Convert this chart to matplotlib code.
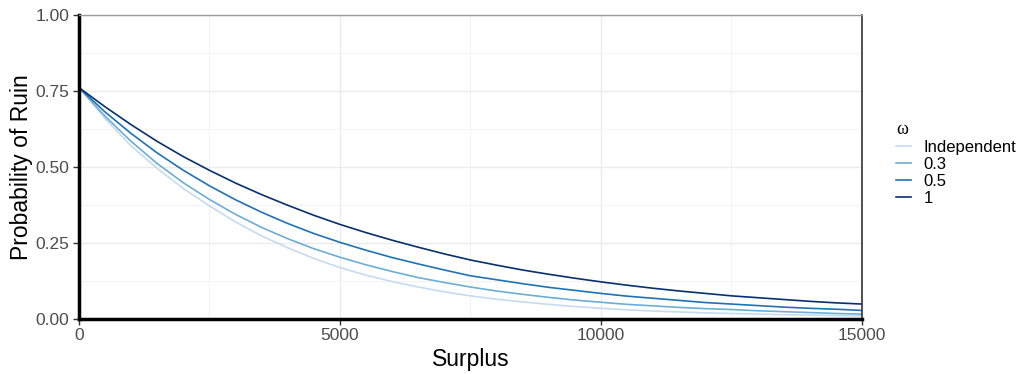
import numpy as np
import matplotlib
matplotlib.use("Agg")
import matplotlib.pyplot as plt
from matplotlib.ticker import MultipleLocator

plt.rcParams['font.family'] = ['Liberation Sans', 'DejaVu Sans']

surplus = np.arange(0, 15001, 500)

ruin_indep = [0.760, 0.658, 0.568, 0.494, 0.428, 0.371, 0.318, 0.272, 0.233, 0.198,
              0.168, 0.143, 0.122, 0.104, 0.088, 0.075, 0.064, 0.055, 0.047, 0.040,
              0.034, 0.029, 0.025, 0.022, 0.019, 0.017, 0.015, 0.013, 0.012, 0.010, 0.009]
ruin_03 = [0.760, 0.666, 0.583, 0.510, 0.447, 0.392, 0.343, 0.300, 0.263, 0.230,
           0.202, 0.177, 0.155, 0.135, 0.119, 0.104, 0.091, 0.080, 0.070, 0.061,
           0.054, 0.047, 0.042, 0.037, 0.033, 0.030, 0.026, 0.023, 0.020, 0.017, 0.015]
ruin_05 = [0.760, 0.680, 0.609, 0.545, 0.488, 0.437, 0.391, 0.350, 0.313, 0.280,
           0.251, 0.225, 0.201, 0.180, 0.160, 0.141, 0.128, 0.115, 0.103, 0.093,
           0.083, 0.074, 0.067, 0.060, 0.053, 0.048, 0.043, 0.038, 0.034, 0.031, 0.027]
ruin_1 = [0.760, 0.697, 0.638, 0.583, 0.533, 0.488, 0.446, 0.408, 0.373, 0.340,
          0.310, 0.283, 0.258, 0.235, 0.213, 0.193, 0.176, 0.160, 0.146, 0.133,
          0.121, 0.110, 0.100, 0.091, 0.083, 0.075, 0.069, 0.063, 0.057, 0.052, 0.048]

labels = ["Independent", "0.3", "0.5", "1"]
colors = ["#c6dbef", "#6baed6", "#2171b5", "#08306b"]

fig = plt.figure(figsize=(10.19, 3.74), dpi=100)
ax = fig.add_axes([0.0775, 0.148, 0.7684, 0.8127])

for y, lab, c in zip([ruin_indep, ruin_03, ruin_05, ruin_1], labels, colors):
    ax.plot(surplus, y, color=c, lw=1.2, label=lab)

ax.set_xlim(0, 15000)
ax.set_ylim(0, 1)
ax.xaxis.set_major_locator(MultipleLocator(5000))
ax.xaxis.set_minor_locator(MultipleLocator(2500))
ax.yaxis.set_major_locator(MultipleLocator(0.25))
ax.yaxis.set_minor_locator(MultipleLocator(0.125))
ax.yaxis.set_major_formatter(plt.FuncFormatter(lambda v, p: f"{v:.2f}"))

ax.grid(which="major", color="#ebebeb", lw=1.0)
ax.grid(which="minor", color="#f4f4f4", lw=0.8)
ax.set_axisbelow(True)

ax.spines["left"].set_linewidth(2.5)
ax.spines["left"].set_color("black")
ax.spines["bottom"].set_linewidth(2.5)
ax.spines["bottom"].set_color("black")
ax.spines["top"].set_color("#999999")
ax.spines["top"].set_linewidth(1.0)
ax.spines["right"].set_color("#333333")
ax.spines["right"].set_linewidth(1.2)

ax.tick_params(which="major", length=4, width=1, color="#333333",
               labelsize=12.5, labelcolor="#4d4d4d", pad=3)
ax.tick_params(which="minor", length=0)

ax.set_xlabel("Surplus", fontsize=16.5, labelpad=3)
ax.set_ylabel("Probability of Ruin", fontsize=16.5, labelpad=2)

leg = ax.legend(loc="upper left", bbox_to_anchor=(0.873, 0.695), bbox_transform=fig.transFigure,
                frameon=False, fontsize=12, handlelength=0.9, handletextpad=0.75,
                labelspacing=0.12, borderaxespad=0, title="ω")
leg.get_title().set_fontfamily("Liberation Serif")
leg.get_title().set_fontsize(13)
leg._legend_box.align = "left"

fig.savefig("out.png", dpi=100)
